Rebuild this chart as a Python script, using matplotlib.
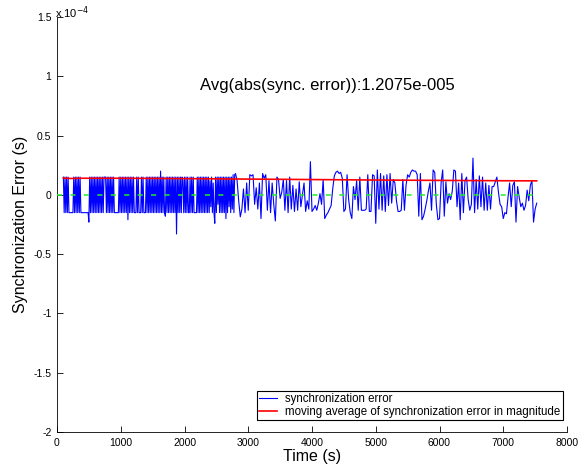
import numpy as np
import matplotlib
matplotlib.use('Agg')
import matplotlib.pyplot as plt

plt.rcParams['font.family'] = ['Liberation Sans', 'DejaVu Sans']
plt.rcParams['axes.unicode_minus'] = False

# sync error log: dense part (12.5 s steps) then sparser part (25 s steps)
T_EARLY, DT_EARLY = 100, 12.5
T_LATE, DT_LATE = 2800, 25

# synchronization error, in units of 1e-5 s
err_early_1e5 = [
    # t = 100 .. 287.5
    1.5, -1.5, 1.5, -1.5, 1.5, -1.5, 1.5, -1.5, -1.5, -1.5, -1.5, -1.5, -1.5, 1.5, -1.5, 1.5,
    # t = 300 .. 487.5
    -1.5, 1.5, -1.5, 1.5, -1.5, 1.5, -1.5, -1.5, -1.5, -1.5, -1.5, -1.5, -1.5, -1.5, -1.5, -1.5,
    # t = 500 .. 687.5
    -2.3, 1.5, -1.5, 1.5, -1.5, 1.5, -1.5, 1.5, -1.5, 1.5, -1.5, 1.5, -1.5, 1.5, -1.5, 1.5,
    # t = 700 .. 887.5
    -1.5, 1.5, -1.5, 1.5, 1.5, 1.5, -1.5, 1.5, -1.5, 1.5, -1.5, 1.5, -1.5, 1.5, -1.5, 1.5,
    # t = 900 .. 1087.5
    -1.5, -1.5, -1.5, -1.5, -1.5, -1.5, 1.5, -1.5, 1.5, -1.5, 1.5, -1.5, 1.5, -1.5, 1.5, -1.5,
    # t = 1100 .. 1287.5
    1.5, -2.1, 1.5, -1.5, 1.5, -1.5, 1.5, -1.5, 1.5, -1.5, -1.5, -1.5, 1.5, -1.5, 1.5, -1.5,
    # t = 1300 .. 1487.5
    -1.5, -1.5, 1.5, -1.5, 1.5, -1.5, -1.5, -1.5, 1.5, -1.5, 1.5, -1.5, 1.5, -1.5, 1.5, -1.5,
    # t = 1500 .. 1687.5
    1.5, -1.5, 1.5, -1.5, 1.5, -1.5, 1.5, -1.5, 1.5, -1.5, 2.0, -1.5, 1.5, -1.5, 1.5, -1.5,
    # t = 1700 .. 1887.5
    -1.8, 1.5, -1.5, 1.5, -1.5, 1.5, -1.5, 1.5, -1.5, 1.5, -1.5, 1.5, -1.5, 1.5, -3.3, 1.5,
    # t = 1900 .. 2087.5
    -1.5, 1.5, -1.5, 1.5, -1.5, 1.5, 1.2, -1.5, 1.5, -1.5, 1.5, -1.5, 1.5, -1.5, -1.5, 1.5,
    # t = 2100 .. 2287.5
    -1.5, 1.5, -1.5, 1.5, -1.5, -1.5, -1.5, -1.5, 1.5, -1.5, 1.5, -1.5, 1.5, -1.5, 1.5, -1.5,
    # t = 2300 .. 2487.5
    1.5, -1.5, 1.5, -1.5, 1.5, -1.5, 1.5, -1.5, 1.2, -1.0, 1.5, -1.5, 1.0, -1.5, -2.4, 1.5,
    # t = 2500 .. 2687.5
    -1.5, 1.5, -0.8, 1.5, -1.5, 1.5, -1.5, 1.5, -1.5, 1.5, -1.5, 1.5, -2.0, 1.5, -1.5, 1.5,
    # t = 2700 .. 2787.5
    -1.0, 1.5, -1.5, 1.5, -1.2, 1.7, -1.5, 1.7,
]

err_late_1e5 = [
    # t = 2800 .. 3075
    1.8, 1.2, -0.5, -1.85, -1.2, 0.5, -1.5, 1.0, -1.3, 1.7, 1.6, 1.7,
    # t = 3100 .. 3575
    -0.8, 0.6, -1.2, 1.0, -2.0, 1.8, 1.4, 1.7, -1.3, 1.2,
    -1.5, 1.0, -0.8, -2.2, 1.5, 1.3, -0.3, 0.2, 1.3, -1.3,
    # t = 3600 .. 4075
    1.2, -1.5, 1.5, -1.2, 0.8, -1.4, 0.5, -1.3, 1.1, -1.0,
    0.0, 1.0, -1.4, -0.5, -1.2, 2.8, -1.4, -1.2, -0.9, -1.3,
    # t = 4100 .. 4575
    -0.7, 0.1, -0.8, 1.3, -2.0, -1.7, -1.5, -1.2, -0.9, 0.5,
    1.6, 1.9, 2.0, 1.8, 1.9, 1.4, -1.4, -1.2, 1.7, -0.4,
    # t = 4600 .. 5075
    -1.5, -2.0, 0.7, -0.4, 1.2, -1.3, 1.5, -1.3, -1.3, -1.3,
    -1.2, 1.7, -1.4, -1.4, 1.7, 1.6, -2.4, 2.1, -1.2, 1.8,
    # t = 5100 .. 5575
    -1.3, 1.6, -1.4, 1.7, -0.9, 1.8, -0.7, 1.3, 1.0, -0.5,
    -1.4, -1.4, -1.3, 1.3, -1.3, 0.8, 1.7, 1.5, 1.9, 2.1,
    # t = 5600 .. 6075
    2.0, 2.0, 1.7, -1.8, 1.8, -2.1, -1.8, -1.2, -0.5, 0.3,
    1.0, -1.3, 2.1, 1.9, -0.8, -2.1, -2.0, 1.0, 2.1, -1.8,
    # t = 6100 .. 6575
    1.1, -0.7, 0.1, -0.4, 0.3, 2.1, 2.0, -1.0, 1.0, -2.1,
    1.8, -1.5, 1.2, 1.5, -0.4, -1.3, -0.8, 3.1, -1.5, 1.3,
    # t = 6600 .. 7075
    -1.2, 1.6, -1.0, 1.5, -1.3, 1.0, -1.3, 0.8, -1.2, 0.7,
    0.7, 1.1, 1.5, 0.2, -0.8, -1.0, -2.0, -1.5, -1.6, -0.2,
    # t = 7100 .. 7525
    1.0, -1.0, 0.8, 1.1, -2.3, 0.7, -0.2, -1.0, -0.7, -1.3,
    -0.9, 0.4, -0.5, 0.8, 1.2, -2.3, -1.2, -0.7,
]

# moving average of |sync error| (red curve), 1e-5 s
avg_time = [100, 200, 400, 1000, 2000, 3000, 4000, 5000, 6000, 7000, 7525]
avg_1e5 = [1.42, 1.38, 1.40, 1.40, 1.37, 1.33, 1.29, 1.25, 1.22, 1.19, 1.18]

zero_span = [0, 7500]
avg_text = 'Avg(abs(sync. error)):1.2075e-005'

t = np.concatenate([T_EARLY + DT_EARLY * np.arange(len(err_early_1e5)),
                    T_LATE + DT_LATE * np.arange(len(err_late_1e5))])
err = np.concatenate([err_early_1e5, err_late_1e5]) / 10.0   # units of 1e-4 s

fig = plt.figure(figsize=(5.8, 4.66), dpi=100)
fig.patch.set_facecolor('white')
ax = fig.add_axes([57 / 580, 1 - 432 / 466, 510 / 580, 415 / 466])

l1, = ax.plot(t, err, color='#0000ff', lw=0.8, label='synchronization error')
l2, = ax.plot(avg_time, np.array(avg_1e5) / 10.0, color='#ff0000', lw=1.2,
              label='moving average of synchronization error in magnitude')
ax.plot(zero_span, [0, 0], color='#22ee22', lw=1.1, linestyle=(0, (3.3, 5.5)), zorder=3)

ax.set_xlim(0, 8000)
ax.set_ylim(-2, 1.5)
ax.set_xticks(np.arange(0, 8001, 1000))
ax.set_yticks([-2, -1.5, -1, -0.5, 0, 0.5, 1, 1.5])
ax.set_yticklabels(['-2', '-1.5', '-1', '-0.5', '0', '0.5', '1', '1.5'])
ax.tick_params(direction='in', length=4, width=0.6, labelsize=7.5, pad=4)
ax.spines['top'].set_visible(False)
ax.spines['right'].set_visible(False)
for sp in ('left', 'bottom'):
    ax.spines[sp].set_linewidth(0.6)

ax.set_xlabel('Time (s)', fontsize=11.5, labelpad=1)
ax.set_ylabel('Synchronization Error (s)', fontsize=11.5, labelpad=4)

fig.text(55 / 580, 1 - 18 / 466, r'x 10$^{-4}$', fontsize=8, ha='left', va='baseline')
ax.text(2250, 0.92, avg_text, fontsize=12, ha='left', va='center')

ax.legend(handles=[l1, l2], loc='lower right', bbox_to_anchor=(0.992, 0.029),
          borderaxespad=0, fontsize=8.3, frameon=True, fancybox=False,
          edgecolor='black', framealpha=1, handlelength=1.6, handletextpad=0.7,
          labelspacing=0.05, borderpad=0.2)
ax.get_legend().get_frame().set_linewidth(0.8)

plt.savefig('out.png', dpi=100, facecolor='white')
